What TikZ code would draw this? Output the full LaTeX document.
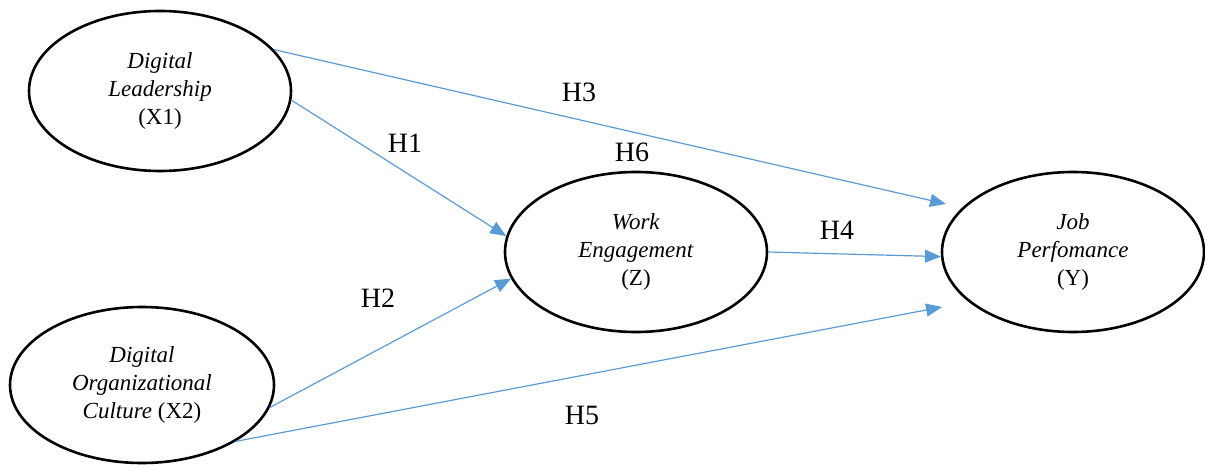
\documentclass[tikz,border=0pt]{standalone}
\usepackage{fontspec}
\setmainfont{Liberation Serif}
\usetikzlibrary{shapes.geometric,arrows.meta}
\definecolor{arrowblue}{HTML}{5B9BD5}
\begin{document}
\begin{tikzpicture}[x=1pt,y=-1pt,
  construct/.style={ellipse,draw=black,line width=2.6pt,minimum width=262pt,minimum height=160pt,inner sep=0pt,
    align=center,font=\fontsize{23}{28}\selectfont},
  hyp/.style={font=\fontsize{28}{32}\selectfont,inner sep=0pt},
  link/.style={draw=arrowblue,line width=1.2pt,-{Triangle[length=16pt,width=13pt]}}]
\useasboundingbox (0,0) rectangle (1205,465);
\node[construct] (x1) at (160,91) {\textit{Digital}\\\textit{Leadership}\\(X1)};
\node[construct,minimum width=264pt,minimum height=156pt] (x2) at (142,385) {\textit{Digital}\\\textit{Organizational}\\\textit{Culture} (X2)};
\node[construct] (z) at (636,252) {\textit{Work}\\\textit{Engagement}\\(Z)};
\node[construct] (y) at (1073,252) {\textit{Job}\\\textit{Perfomance}\\(Y)};
\coordinate (h3end) at (946,204);
\coordinate (h5end) at (942,307);
\draw[link] (x1.20) -- (h3end);
\draw[link] (x1.-4) -- (z.173);
\draw[link] (x2.-10) -- (z.192);
\draw[link] (z.0) -- (y.182);
\draw[link] (x2.-31) -- (h5end);
\node[hyp] (l1) at (405,143) {H1};
\node[hyp] (l2) at (378,298) {H2};
\node[hyp] (l3) at (579,92) {H3};
\node[hyp] (l4) at (837,230) {H4};
\node[hyp] (l5) at (582,415) {H5};
\node[hyp] (l6) at (632,152) {H6};
\end{tikzpicture}
\end{document}
